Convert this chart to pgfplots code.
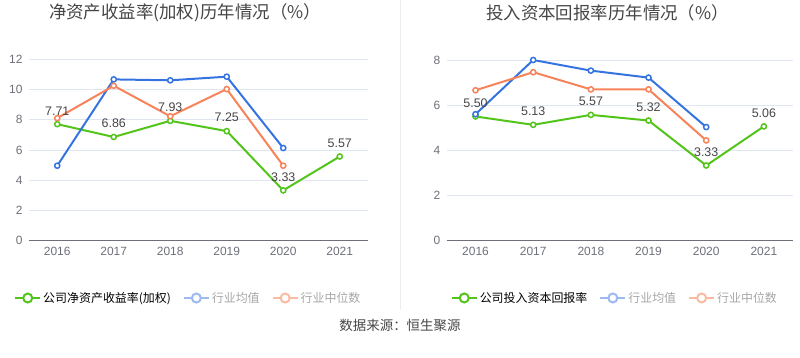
\documentclass[border=0pt]{standalone}
\usepackage{fontspec}
\setmainfont{Liberation Sans}
\newfontfamily\cjk{Noto Sans CJK SC}
\usepackage{pgfplots}
\pgfplotsset{compat=1.18}
\definecolor{cgreen}{HTML}{52C41A}
\definecolor{cblue}{HTML}{3574E0}
\definecolor{corange}{HTML}{F7835A}
\definecolor{lblue}{HTML}{9DB9F2}
\definecolor{lorange}{HTML}{FBBBA3}
\definecolor{gridc}{HTML}{E0E6F1}
\definecolor{axc}{HTML}{6E7079}
\definecolor{titlec}{HTML}{464646}
\definecolor{divc}{HTML}{EEEEEE}
\pgfplotsset{
  common/.style={
    scale only axis,
    xmin=2015.5, xmax=2021.5, ymin=0,
    xtick={2016,2017,2018,2019,2020,2021},
    /pgf/number format/1000 sep={},
    /pgf/number format/assume math mode=true,
    ymajorgrids, grid style={color=gridc, line width=0.75bp},
    axis x line=bottom, axis y line=left,
    y axis line style={draw=none},
    x axis line style={color=axc, line width=0.75bp, -},
    major tick length=0pt,
    tick style={draw=none},
    ticklabel style={font=\fontsize{12}{14}\selectfont, text=axc},
    yticklabel style={xshift=-3bp},
    xticklabel style={yshift=-3bp},
    legend columns=3,
    legend cell align=left,
    legend style={draw=none, fill=none, font=\cjk\fontsize{12}{14}\selectfont,
      /tikz/every even column/.append style={column sep=10bp}},
    every axis plot/.append style={line width=2bp, mark=*, mark size=2.6bp,
      mark options={fill=white, line width=1.5bp}},
  },
  limg/.style={legend image code/.code={
      \draw[#1, line width=2bp] (0bp,0bp) -- (25bp,0bp);
      \draw[#1, line width=2bp, fill=white] (12.5bp,0bp) circle (4.5bp);}},
  lab/.style={nodes near coords={\pgfmathprintnumber[fixed,fixed zerofill,precision=2]{\pgfplotspointmeta}},
      nodes near coords style={anchor=south, yshift=5bp, font=\fontsize{12.5}{14}\selectfont, text=titlec}},
}
\begin{document}
\begin{tikzpicture}
\path[use as bounding box] (0bp,0bp) rectangle (800bp,358bp);
\draw[color=divc, line width=0.75bp] (400bp,358bp) -- (400bp,48bp);
\begin{axis}[common, at={(29bp,117.3bp)}, anchor=south west,
  width=339bp, height=181.4bp, ymax=12, ytick={0,2,...,12},
  legend style={at={(0.47,-0.316)}, anchor=center}]
\addplot[color=cgreen, limg=cgreen, lab] coordinates {(2016,7.71)(2017,6.86)(2018,7.93)(2019,7.25)(2020,3.33)(2021,5.57)};
\addlegendentry{公司净资产收益率(加权)}
\addplot[color=cblue, limg=lblue] coordinates {(2016,4.96)(2017,10.67)(2018,10.61)(2019,10.85)(2020,6.13)};
\addlegendentry{\textcolor{gray!70}{行业均值}}
\addplot[color=corange, limg=lorange] coordinates {(2016,8.11)(2017,10.25)(2018,8.23)(2019,10.03)(2020,4.96)};
\addlegendentry{\textcolor{gray!70}{行业中位数}}
\end{axis}
\begin{axis}[common, at={(446.7bp,117.3bp)}, anchor=south west,
  width=346bp, height=180.7bp, ymax=8, ytick={0,2,...,8},
  legend style={at={(0.486,-0.317)}, anchor=center}]
\addplot[color=cgreen, limg=cgreen, lab] coordinates {(2016,5.50)(2017,5.13)(2018,5.57)(2019,5.32)(2020,3.33)(2021,5.06)};
\addlegendentry{公司投入资本回报率}
\addplot[color=cblue, limg=lblue] coordinates {(2016,5.60)(2017,8.00)(2018,7.53)(2019,7.22)(2020,5.03)};
\addlegendentry{\textcolor{gray!70}{行业均值}}
\addplot[color=corange, limg=lorange] coordinates {(2016,6.66)(2017,7.46)(2018,6.70)(2019,6.70)(2020,4.44)};
\addlegendentry{\textcolor{gray!70}{行业中位数}}
\end{axis}
\node[font=\cjk\fontsize{17.5}{20}\selectfont, text=titlec] at (185bp,345bp) {净资产收益率(加权)历年情况（\%）};
\node[font=\cjk\fontsize{17.5}{20}\selectfont, text=titlec] at (607.5bp,345bp) {投入资本回报率历年情况（\%）};
\node[font=\cjk\fontsize{13.5}{16}\selectfont, text=titlec] at (400bp,33bp) {数据来源：恒生聚源};
\end{tikzpicture}
\end{document}
